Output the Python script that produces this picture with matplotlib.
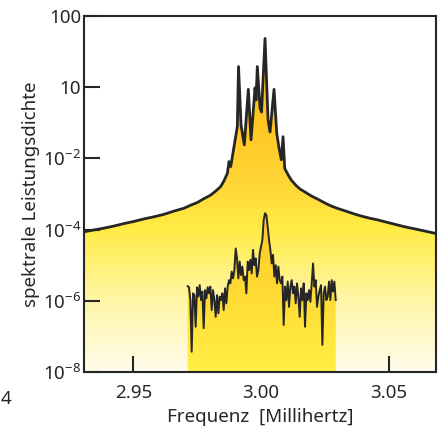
import numpy as np
import matplotlib.pyplot as plt
from matplotlib.colors import LinearSegmentedColormap
from matplotlib.patches import Polygon

plt.rcParams['font.family'] = ['Noto Sans', 'DejaVu Sans']
plt.rcParams['mathtext.default'] = 'regular'

# broad spectrum (frequency in mHz, log10 of power density)
outer_freq = [2.9306, 2.93451, 2.9384, 2.94235, 2.9463, 2.95020, 2.9541,
              2.95804, 2.9620, 2.96588, 2.9698, 2.97255, 2.9750, 2.97765,
              2.9803, 2.98235, 2.9842, 2.98549, 2.9868, 2.98745, 2.98812,
              2.98941, 2.99071, 2.99118, 2.99216, 2.99345, 2.99502, 2.99608,
              2.99765, 2.99804, 2.99855, 2.99961, 3.0002, 3.00157, 3.00275,
              3.00353, 3.0051, 3.00616, 3.00706, 3.00796, 3.00863, 3.00929,
              3.01059, 3.01188, 3.01373, 3.01529, 3.01714, 3.01961, 3.02235,
              3.02498, 3.02757, 3.03020, 3.03282, 3.03608, 3.03933, 3.04263,
              3.04588, 3.04914, 3.05243, 3.05569, 3.05894, 3.06353, 3.0686]
outer_exp = [-4.06, -4.01, -3.96, -3.90, -3.83, -3.77, -3.70,
             -3.64, -3.57, -3.48, -3.40, -3.31, -3.24, -3.13,
             -3.03, -2.91, -2.79, -2.63, -2.42, -2.09, -2.23,
             -1.67, -1.11, 0.58, -1.06, -1.62, -0.06, -1.48,
             -0.02, -0.36, 0.58, -0.58, -0.70, 1.37, -0.92,
             -1.26, -0.06, -1.29, -1.71, -2.04, -1.39, -2.28,
             -2.46, -2.61, -2.76, -2.86, -2.94, -3.05, -3.15,
             -3.25, -3.34, -3.41, -3.47, -3.55, -3.62, -3.68,
             -3.73, -3.79, -3.85, -3.91, -3.96, -4.03, -4.11]

# noisy narrow-band spectrum, evenly sampled between these frequencies
inner_start = 2.97125
inner_stop = 3.02928
inner_exp = [-5.59, -5.62, -5.98, -7.43, -5.79, -5.84, -6.73, -5.62,
             -5.88, -5.56, -5.98, -5.74, -6.77, -5.70, -5.93, -5.62,
             -5.79, -5.60, -6.26, -5.70, -5.98, -6.45, -5.84, -6.35,
             -5.88, -5.98, -5.79, -6.26, -5.65, -6.07, -5.60, -5.42,
             -5.51, -5.18, -5.37, -5.14, -4.53, -4.81, -5.37, -4.90,
             -5.28, -5.04, -5.42, -5.32, -5.79, -4.90, -5.14, -4.85,
             -5.23, -4.57, -5.00, -4.81, -5.32, -5.14, -4.67, -4.48,
             -4.29, -3.73, -3.54, -3.59, -3.92, -4.29, -4.57, -4.95,
             -4.71, -5.32, -5.00, -5.51, -5.04, -5.42, -5.51, -5.32,
             -6.68, -5.60, -5.98, -5.46, -6.17, -5.60, -5.42, -5.79,
             -5.60, -6.07, -5.51, -5.88, -6.45, -5.65, -5.98, -5.51,
             -6.73, -5.79, -5.98, -5.70, -6.03, -5.51, -4.95, -5.60,
             -5.42, -6.17, -5.88, -5.70, -5.56, -7.24, -5.79, -5.60,
             -5.98, -5.88, -5.46, -5.98, -5.42, -5.74, -5.46, -5.98]

x_ticks = [2.95, 3.00, 3.05]
x_labels = ['2.95', '3.00', '3.05']
y_ticks = [1e-8, 1e-6, 1e-4, 1e-2, 1, 100]
y_labels = ['$10^{-8}$', '$10^{-6}$', '$10^{-4}$', '$10^{-2}$', '10', '100']

ink = '#262626'
y_floor = 1e-8


def gradient_fill(ax, x, y, stops, zorder):
    verts = [(x[0], y_floor)] + list(zip(x, y)) + [(x[-1], y_floor)]
    poly = Polygon(verts, closed=True, facecolor='none', edgecolor='none',
                   transform=ax.transData)
    ax.add_patch(poly)
    cmap = LinearSegmentedColormap.from_list('grad', stops)
    im = ax.imshow(np.linspace(0, 1, 256).reshape(-1, 1), cmap=cmap,
                   aspect='auto', origin='lower', extent=(0, 1, 0, 1),
                   transform=ax.transAxes, zorder=zorder,
                   interpolation='bilinear')
    im.set_clip_path(poly)


fig = plt.figure(figsize=(4.39, 4.41), dpi=100)
ax = fig.add_axes([84 / 439, 1 - 372 / 441, 352 / 439, 356 / 441])
ax.set_yscale('log')
ax.autoscale(False)
ax.set_xlim(2.9306, 3.0686)
ax.set_ylim(y_floor, 100)

outer_val = 10.0 ** np.array(outer_exp)
inner_freq = np.linspace(inner_start, inner_stop, len(inner_exp))
inner_val = 10.0 ** np.array(inner_exp)

gradient_fill(ax, outer_freq, outer_val,
              [(0, '#FFFCEB'), (0.2, '#FFF6A8'), (0.4, '#FFEC45'),
               (0.54, '#FFD535'), (0.71, '#FFC622'), (1, '#FFBE12')], 1)
gradient_fill(ax, inner_freq, inner_val,
              [(0, '#FFEF45'), (0.45, '#FFC622'), (1, '#FFBE12')], 2)

ax.plot(outer_freq, outer_val, color=ink, lw=2.0, zorder=3)
ax.plot(inner_freq, inner_val, color=ink, lw=1.4, zorder=4)

ax.set_xticks(x_ticks, x_labels)
ax.set_yticks(y_ticks, y_labels)
ax.minorticks_off()
ax.tick_params(direction='in', length=11.5, width=1.5, color=ink,
               labelsize=13.5, labelcolor=ink)
ax.tick_params(axis='x', pad=9)
ax.tick_params(axis='y', pad=2)
for s in ax.spines.values():
    s.set_linewidth(1.5)
    s.set_color(ink)
    s.set_zorder(5)

ax.set_xlabel('Frequenz  [Millihertz]', fontsize=13.5, color=ink, labelpad=4)
ax.set_ylabel('spektrale Leistungsdichte', fontsize=13.5, color=ink,
              labelpad=2)

# stray label fragment at the left edge of the original figure
fig.text(0.5 / 439, 1 - 398.5 / 441, '4', ha='left', va='center',
         fontsize=13.5, color=ink)

fig.savefig('out.png', dpi=100)
